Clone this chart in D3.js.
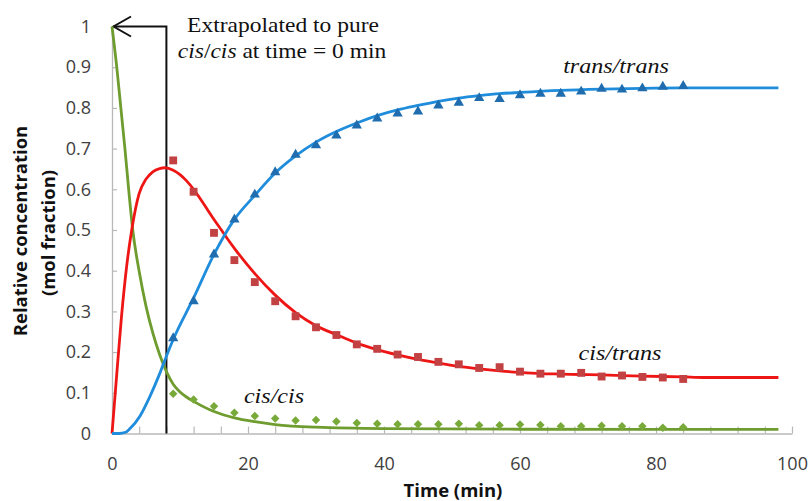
<!DOCTYPE html>
<html>
<head>
<meta charset="utf-8">
<script src="https://cdn.jsdelivr.net/npm/d3@7"></script>
<style>
  html, body { margin: 0; padding: 0; background: #fff; }
  svg { display: block; }
</style>
</head>
<body>
<svg id="chart" width="811" height="501"></svg>
<script>
// ---- data ----
const sampleTimes = [9,12,15,18,21,24,27,30,33,36,39,42,45,48,51,54,57,60,63,66,69,72,75,78,81,84];
const transTransPts = [0.234,0.325,0.44,0.526,0.587,0.642,0.685,0.708,0.732,0.757,0.774,0.786,0.791,0.806,0.8125,0.824,0.822,0.831,0.835,0.835,0.84,0.847,0.845,0.848,0.852,0.854];
const cisTransPts   = [0.671,0.594,0.493,0.426,0.372,0.325,0.288,0.261,0.242,0.219,0.208,0.194,0.188,0.176,0.170,0.161,0.163,0.152,0.147,0.147,0.149,0.140,0.1425,0.139,0.1376,0.134];
const cisCisPts     = [0.0975,0.0835,0.067,0.051,0.043,0.037,0.032,0.033,0.0295,0.026,0.024,0.023,0.023,0.023,0.024,0.020,0.020,0.022,0.021,0.018,0.018,0.019,0.018,0.018,0.014,0.0155];

const cisCisFitT = [0,0.7,1.3,1.9,2.45,3.05,4,5,6,7,8,9,10,11,12,15,18,21,24,30,40,60,98];
const cisCisFitV = [1.0,0.9,0.8,0.7,0.6,0.5,0.398,0.313,0.247,0.194,0.152,0.121,0.102,0.089,0.079,0.054,0.0385,0.029,0.022,0.0155,0.012,0.0105,0.01];

const cisTransFitT = [0,0.6,1.4,2.15,2.9,4,5,6,7,7.8,9,10,11,12,13,14,15,16,17,18,21,24,27,30,33,36,39,42,45,48,51,54,57,60,63,66,69,72,78,84,87,98];
const cisTransFitV = [0,0.125,0.288,0.41,0.5,0.59,0.625,0.643,0.651,0.653,0.647,0.636,0.62,0.60,0.576,0.551,0.526,0.502,0.478,0.455,0.393,0.34,0.297,0.265,0.243,0.222,0.206,0.193,0.182,0.173,0.165,0.159,0.154,0.150,0.147,0.146,0.145,0.144,0.141,0.139,0.1376,0.1376];

const transTransFitT = [0,1,2,2.65,4.1,5.6,7.06,8,9,12,15,18,21,24,27,30,33,36,39,42,45,48,51,54,57,60,66,72,78,84,98];
const transTransFitV = [0,0,0.003,0.012,0.0425,0.092,0.149,0.19,0.231,0.333,0.44,0.526,0.585,0.64,0.682,0.716,0.742,0.763,0.781,0.795,0.806,0.816,0.824,0.83,0.835,0.838,0.843,0.846,0.848,0.849,0.849];

const xTicks = [0,20,40,60,80,100];
const xTickLabels = ["0","20","40","60","80","100"];
const xMinorTicks = [0,4,8,12,16,20,24,28,32,36,40,44,48,52,56,60,64,68,72,76,80,84,88,92,96,100];
const yTicks = [0,0.1,0.2,0.3,0.4,0.5,0.6,0.7,0.8,0.9,1];
const yTickLabels = ["0","0.1","0.2","0.3","0.4","0.5","0.6","0.7","0.8","0.9","1"];

const xTitle = "Time (min)";
const yTitle = ["Relative concentration","(mol fraction)"];
const annotationLines = ["Extrapolated to pure", "at time = 0 min"];
const annotationTime = 8;
const seriesLabels = ["trans/trans","cis/trans","cis/cis"];

// ---- chart ----
const svg = d3.select("#chart");
const x = d3.scaleLinear().domain([0,100]).range([112,792]);
const y = d3.scaleLinear().domain([0,1]).range([433.5,26.5]);

const axisColor = "#b8b8b8";
const sansFont = "'Open Sans', sans-serif";
const serifFont = "'Liberation Serif', 'Times New Roman', serif";

// y axis
const gy = svg.append("g").attr("transform", `translate(${x(0)},0)`)
  .call(d3.axisLeft(y).tickValues(yTicks).tickSizeInner(-5).tickSizeOuter(0).tickPadding(21)
        .tickFormat((d,i) => yTickLabels[i]));
gy.select(".domain").attr("stroke", axisColor).attr("stroke-width", 1.3);
gy.selectAll(".tick line").attr("stroke", axisColor).attr("stroke-width", 1.2);
gy.selectAll(".tick text").attr("font-family", sansFont).attr("font-size", 18).attr("fill", "#404040");

// x axis minor ticks + line
const gxm = svg.append("g").attr("transform", `translate(0,${y(0)})`)
  .call(d3.axisBottom(x).tickValues(xMinorTicks).tickSizeInner(-7).tickSizeOuter(0).tickFormat(""));
gxm.select(".domain").attr("stroke", axisColor).attr("stroke-width", 1.3);
gxm.selectAll(".tick line").attr("stroke", axisColor).attr("stroke-width", 1.2);

// x axis labels
const gx = svg.append("g").attr("transform", `translate(0,${y(0)})`)
  .call(d3.axisBottom(x).tickValues(xTicks).tickSize(0).tickPadding(23.5)
        .tickFormat((d,i) => xTickLabels[i]));
gx.select(".domain").remove();
gx.selectAll(".tick text").attr("font-family", sansFont).attr("font-size", 18).attr("fill", "#404040");

// titles
svg.append("text").attr("x", 453).attr("y", 497).attr("text-anchor","middle")
  .attr("font-family", sansFont).attr("font-weight","bold").attr("font-size", 18.5).attr("fill","#111")
  .text(xTitle);
svg.append("text").attr("transform","translate(27,231) rotate(-90)").attr("text-anchor","middle")
  .attr("font-family", sansFont).attr("font-weight","bold").attr("font-size", 18.5).attr("fill","#111")
  .text(yTitle[0]);
svg.append("text").attr("transform","translate(55,233) rotate(-90)").attr("text-anchor","middle")
  .attr("font-family", sansFont).attr("font-weight","bold").attr("font-size", 18.5).attr("fill","#111")
  .text(yTitle[1]);

// fit lines
const line = d3.line().x(d => x(d[0])).y(d => y(d[1])).curve(d3.curveMonotoneX);
const fits = [
  {t: cisCisFitT, v: cisCisFitV, color: "#6e9c2e"},
  {t: cisTransFitT, v: cisTransFitV, color: "#ee1515"},
  {t: transTransFitT, v: transTransFitV, color: "#1f8ddb"}
];

// annotation line (drawn beneath curves)
const ax = x(annotationTime), a0 = x(0);
svg.append("path")
  .attr("d", `M${ax},${y(0)} L${ax},${y(1)} L${a0+1},${y(1)}`)
  .attr("fill","none").attr("stroke","#111").attr("stroke-width",2);
svg.append("path")
  .attr("d", `M${a0+19},${y(1)-10} L${a0+1.5},${y(1)} L${a0+19},${y(1)+10}`)
  .attr("fill","none").attr("stroke","#111").attr("stroke-width",2);

fits.forEach(f => {
  svg.append("path").datum(f.t.map((t,i) => [t, f.v[i]]))
    .attr("d", line).attr("fill","none").attr("stroke", f.color).attr("stroke-width", 2.8)
    .attr("stroke-linejoin","round");
});

// markers
const sq = d3.symbol().type(d3.symbolSquare).size(62);
const dia = d3.symbol().type(d3.symbolSquare).size(36);
const tri = d3.symbol().type(d3.symbolTriangle).size(46);

svg.append("g").selectAll("path").data(sampleTimes.map((t,i)=>[t,cisCisPts[i]])).join("path")
  .attr("d", dia).attr("fill","#78aa3a")
  .attr("transform", d => `translate(${x(d[0])},${y(d[1])}) rotate(45)`);
svg.append("g").selectAll("path").data(sampleTimes.map((t,i)=>[t,cisTransPts[i]])).join("path")
  .attr("d", sq).attr("fill","#c24243")
  .attr("transform", d => `translate(${x(d[0])},${y(d[1])})`);
svg.append("g").selectAll("path").data(sampleTimes.map((t,i)=>[t,transTransPts[i]])).join("path")
  .attr("d", tri).attr("fill","#1f6dae")
  .attr("transform", d => `translate(${x(d[0])},${y(d[1])})`);

// annotation text
const ann = svg.append("g").attr("font-family", serifFont).attr("font-size", 21).attr("fill","#111");
ann.append("text").attr("transform","translate(283,32) scale(1.12,1)").attr("text-anchor","middle")
  .text(annotationLines[0]);
const t2 = ann.append("text").attr("transform","translate(282,58) scale(1.12,1)").attr("text-anchor","middle");
t2.append("tspan").attr("font-style","italic").text("cis");
t2.append("tspan").text("/");
t2.append("tspan").attr("font-style","italic").text("cis");
t2.append("tspan").text(" " + annotationLines[1]);

// series labels
const lab = svg.append("g").attr("font-family", serifFont).attr("font-size", 21.5).attr("font-style","italic").attr("fill","#111");
lab.append("text").attr("transform","translate(616,73) scale(1.12,1)").attr("text-anchor","middle").text(seriesLabels[0]);
lab.append("text").attr("transform","translate(620,360) scale(1.12,1)").attr("text-anchor","middle").text(seriesLabels[1]);
lab.append("text").attr("transform","translate(274,403) scale(1.12,1)").attr("text-anchor","middle").text(seriesLabels[2]);
</script>
</body>
</html>
